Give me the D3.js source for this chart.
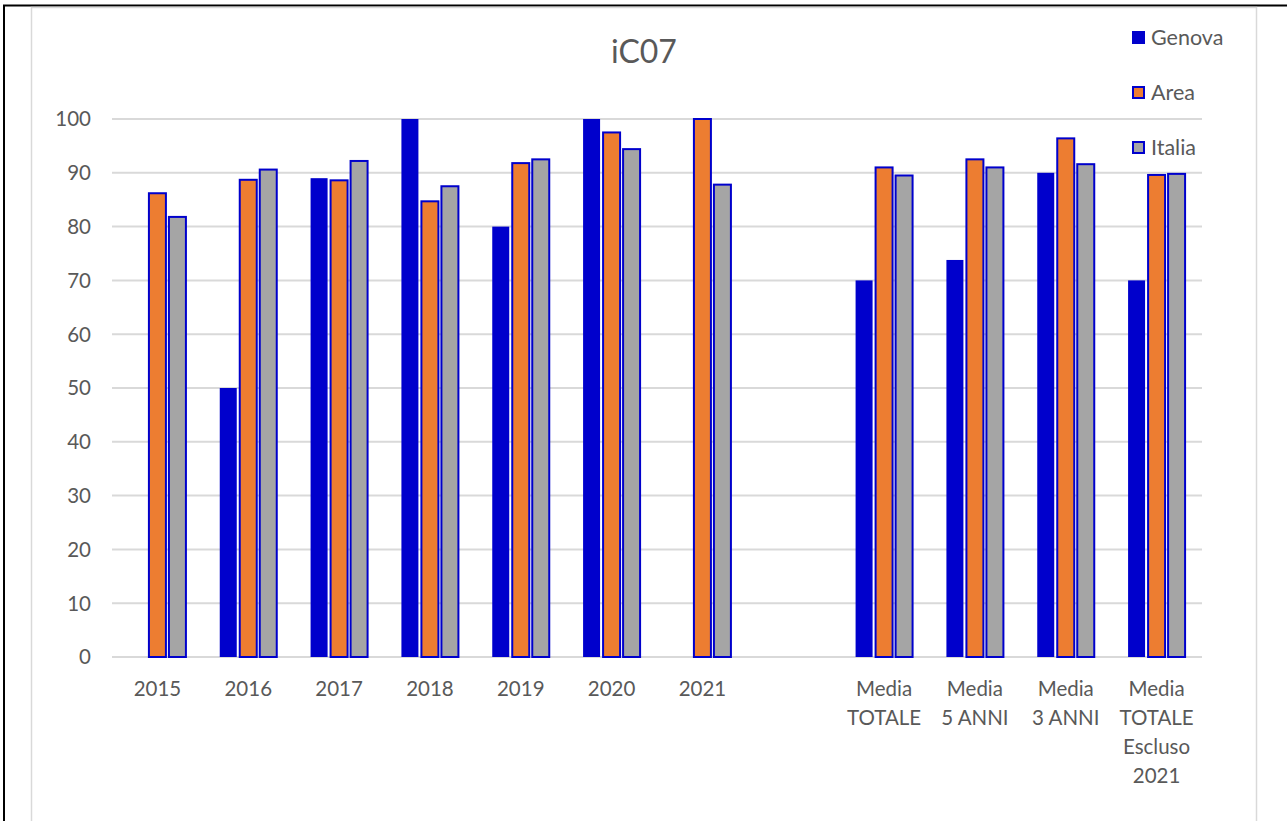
<!DOCTYPE html>
<html lang="it">
<head>
<meta charset="UTF-8">
<script src="https://cdnjs.cloudflare.com/ajax/libs/d3/7.8.5/d3.min.js"></script>
<title>iC07</title>
<style>
  body { margin: 0; background: #fff; }
  text { font-family: Lato, "Open Sans", sans-serif; fill: #595959; }
</style>
</head>
<body>
<div id="chart"></div>
<script>
  // categories ("" is the empty slot between 2021 and the averages)
  const categories = ["2015", "2016", "2017", "2018", "2019", "2020", "2021", "",
    "Media TOTALE", "Media 5 ANNI", "Media 3 ANNI", "Media TOTALE Escluso 2021"];
  const categoryLines = [["2015"], ["2016"], ["2017"], ["2018"], ["2019"], ["2020"], ["2021"], [],
    ["Media", "TOTALE"], ["Media", "5 ANNI"], ["Media", "3 ANNI"], ["Media", "TOTALE", "Escluso", "2021"]];
  const series = ["Genova", "Area", "Italia"];
  const genova = [null, 50, 89, 100, 80, 100, null, null, 70, 73.8, 90, 70];
  const area = [86.2, 88.7, 88.6, 84.7, 91.8, 97.5, 100, null, 91, 92.5, 96.4, 89.6];
  const italia = [81.8, 90.6, 92.2, 87.5, 92.5, 94.4, 87.8, null, 89.5, 91, 91.6, 89.8];
  const yTicks = [0, 10, 20, 30, 40, 50, 60, 70, 80, 90, 100];

  const values = { Genova: genova, Area: area, Italia: italia };
  const colors = { Genova: "#0000CC", Area: "#ED7D31", Italia: "#A5A5A5" };
  const edge = "#0000CC";

  const W = 1287, H = 821;
  const svg = d3.select("#chart").append("svg").attr("width", W).attr("height", H);

  // outer frame
  svg.append("line").attr("x1", 3).attr("x2", W).attr("y1", 5.5).attr("y2", 5.5)
    .attr("stroke", "#000").attr("stroke-width", 2);
  svg.append("line").attr("x1", 4).attr("x2", 4).attr("y1", 5).attr("y2", H)
    .attr("stroke", "#000").attr("stroke-width", 2);
  // chart area border
  svg.append("rect").attr("x", 31.5).attr("y", 7.5).attr("width", 1225).attr("height", 900)
    .attr("fill", "none").attr("stroke", "#d9d9d9").attr("stroke-width", 1.5);

  const plotLeft = 112, plotRight = 1202, plotTop = 119, plotBottom = 657;

  const x = d3.scaleBand().domain(categories).range([plotLeft, plotRight]).padding(0);
  const xs = d3.scaleBand().domain(series).range([-28.5, 28.5]).paddingInner(0.15);
  const y = d3.scaleLinear().domain([0, 100]).range([plotBottom, plotTop]);

  // gridlines
  svg.append("g").selectAll("line").data(yTicks).join("line")
    .attr("x1", plotLeft).attr("x2", plotRight)
    .attr("y1", d => y(d)).attr("y2", d => y(d))
    .attr("stroke", "#d9d9d9").attr("stroke-width", 2);

  // y labels
  svg.append("g").selectAll("text").data(yTicks).join("text")
    .attr("x", 91).attr("y", d => y(d)).attr("dy", "0.36em")
    .attr("text-anchor", "end").style("font-size", "20.5px")
    .text(d => d);

  // bars
  const bars = [];
  categories.forEach((c, i) => series.forEach(s => {
    if (values[s][i] != null) bars.push({ c: c, s: s, v: values[s][i] });
  }));
  svg.append("g").selectAll("rect").data(bars).join("rect")
    .attr("x", d => x(d.c) + x.bandwidth() / 2 + xs(d.s))
    .attr("width", xs.bandwidth())
    .attr("y", d => y(d.v))
    .attr("height", d => y(0) - y(d.v))
    .attr("fill", d => colors[d.s])
    .attr("stroke", edge)
    .attr("stroke-width", d => d.s === "Genova" ? 0 : 2);

  // x labels
  const xl = svg.append("g").selectAll("text").data(categories).join("text")
    .attr("x", d => x(d) + x.bandwidth() / 2)
    .attr("y", 696)
    .attr("text-anchor", "middle").style("font-size", "20.5px");
  xl.selectAll("tspan").data((d, i) => categoryLines[i]).join("tspan")
    .attr("x", function () { return this.parentNode.getAttribute("x"); })
    .attr("dy", (d, i) => i === 0 ? 0 : 29)
    .text(d => d);

  // title
  svg.append("text").attr("x", 644).attr("y", 63).attr("text-anchor", "middle")
    .style("font-size", "32px").text("iC07");

  // legend
  const lg = svg.append("g").selectAll("g").data(series).join("g")
    .attr("transform", (d, i) => `translate(1132, ${31 + i * 55})`);
  lg.append("rect")
    .attr("x", d => d === "Genova" ? 0 : 1).attr("y", d => d === "Genova" ? 0 : 1)
    .attr("width", d => d === "Genova" ? 13 : 11).attr("height", d => d === "Genova" ? 13 : 11)
    .attr("fill", d => colors[d]).attr("stroke", edge)
    .attr("stroke-width", d => d === "Genova" ? 0 : 2);
  lg.append("text").attr("x", 19).attr("y", 14).style("font-size", "21.5px").text(d => d);
</script>
</body>
</html>
